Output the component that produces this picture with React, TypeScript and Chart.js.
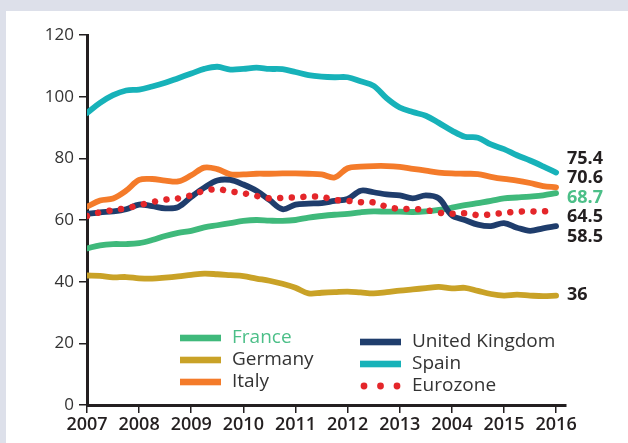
import { useEffect, useRef } from 'react';
import { Chart, registerables } from 'chart.js';

Chart.register(...registerables);

// ---- data ----
const periods = [
  2007, 2007.25, 2007.5, 2007.75, 2008, 2008.25, 2008.5, 2008.75, 2009, 2009.25, 2009.5, 2009.75,
  2010, 2010.25, 2010.5, 2010.75, 2011, 2011.25, 2011.5, 2011.75, 2012, 2012.25, 2012.5, 2012.75,
  2013, 2013.25, 2013.5, 2013.75, 2014, 2014.25, 2014.5, 2014.75, 2015, 2015.25, 2015.5, 2015.75, 2016,
];

const yearTickLabels = ['2007', '2008', '2009', '2010', '2011', '2012', '2013', '2004', '2015', '2016'];

const france = [
  50.8, 51.8, 52.2, 52.2, 52.5, 53.5, 54.8, 55.8, 56.5, 57.6, 58.3, 59,
  59.7, 60, 59.8, 59.7, 60, 60.8, 61.3, 61.7, 62, 62.5, 62.8, 62.7,
  62.7, 62.6, 62.8, 63.3, 64, 64.8, 65.5, 66.2, 67, 67.3, 67.6, 68, 68.7,
];
const germany = [
  42, 41.9, 41.4, 41.5, 41.1, 41, 41.3, 41.7, 42.2, 42.6, 42.4, 42.1,
  41.8, 41, 40.3, 39.3, 38, 36.2, 36.4, 36.6, 36.8, 36.5, 36.2, 36.6,
  37.1, 37.5, 37.9, 38.3, 37.8, 38, 37, 36, 35.5, 35.8, 35.5, 35.3, 35.5,
];
const italy = [
  64.3, 66.3, 67, 69.5, 73, 73.3, 72.8, 72.5, 74.5, 77, 76.5, 74.8,
  74.8, 75, 75, 75.1, 75.1, 75, 74.8, 73.8, 76.8, 77.3, 77.5, 77.5,
  77.2, 76.6, 76, 75.4, 75.1, 75, 74.9, 74, 73.3, 72.8, 72, 71, 70.6,
];
const unitedKingdom = [
  62, 62.5, 62.8, 63.5, 65, 64.5, 63.8, 64.2, 67.5, 70.5, 72.8, 73,
  71.5, 69.5, 66.5, 63.5, 65, 65.3, 65.5, 66.2, 66.8, 69.5, 69, 68.3,
  68, 67, 68, 67, 61.5, 60, 58.5, 58, 59, 57.5, 56.5, 57.3, 58,
];
const spain = [
  94.7, 98, 100.5, 102, 102.3, 103.3, 104.5, 106, 107.5, 109, 109.7, 108.8,
  109, 109.4, 109, 108.9, 108, 107, 106.5, 106.3, 106.3, 105, 103.5, 99.5,
  96.5, 95, 93.8, 91.5, 89, 87, 86.7, 84.5, 83, 81, 79.3, 77.4, 75.4,
];
const eurozone = [
  61.3, 62.5, 63.2, 63.8, 64.8, 65.8, 66.6, 67, 68, 69.5, 70, 69.3,
  68.7, 67.8, 67, 67.2, 67.3, 67.6, 67.5, 66.5, 66.2, 65.8, 65.7, 64.3,
  63.6, 63.6, 63.2, 62.4, 62, 62.2, 61.6, 61.8, 62.3, 62.7, 62.8, 62.8, 63.5,
];

const endLabelValues = [75.4, 70.6, 68.7, 64.5, 58.5, 36];
const endLabelTexts = ['75.4', '70.6', '68.7', '64.5', '58.5', '36'];
const endLabelSeries = ['Spain', 'Italy', 'France', 'Eurozone', 'United Kingdom', 'Germany'];

// ---- styles ----
const C_FRANCE = '#3fb97b';
const C_FRANCE_TEXT = '#4cbf88';
const C_GERMANY = '#c9a227';
const C_ITALY = '#f47b2a';
const C_UK = '#1f3d6c';
const C_SPAIN = '#17b2b9';
const C_EURO = '#e4262a';
const C_TEXT = '#231f20';
const FONT = '"Open Sans", "Noto Sans", sans-serif';

const legendLayout = [
  { name: 'France', sx: 180, tx: 232, y: 338, textColor: C_FRANCE_TEXT },
  { name: 'Germany', sx: 180, tx: 232, y: 360, textColor: '#333' },
  { name: 'Italy', sx: 180, tx: 232, y: 382, textColor: '#333' },
  { name: 'United Kingdom', sx: 360, tx: 412, y: 342, textColor: '#333' },
  { name: 'Spain', sx: 360, tx: 412, y: 364, textColor: '#333' },
  { name: 'Eurozone', sx: 360, tx: 412, y: 386, textColor: '#333' },
];

const legendPlugin = {
  id: 'customLegend',
  afterDraw(chart: any) {
    const ctx = chart.ctx;
    ctx.save();
    for (const item of legendLayout) {
      const ds = chart.data.datasets.find((d: any) => d.label === item.name);
      if (!ds) continue;
      if (ds.borderDash && ds.borderDash.length) {
        ctx.fillStyle = ds.borderColor;
        for (let k = 0; k < 3; k++) {
          ctx.beginPath();
          ctx.arc(item.sx + 4 + k * 16.5, item.y, 3.4, 0, Math.PI * 2);
          ctx.fill();
        }
      } else {
        ctx.fillStyle = ds.borderColor;
        ctx.fillRect(item.sx, item.y - 3.3, 41, 6.6);
      }
      ctx.fillStyle = item.textColor;
      ctx.font = `19px ${FONT}`;
      ctx.textBaseline = 'middle';
      ctx.textAlign = 'left';
      ctx.fillText(item.name, item.tx, item.y);
    }
    ctx.restore();
  },
};

const endLabelPlugin = {
  id: 'endLabels',
  afterDatasetsDraw(chart: any) {
    const ctx = chart.ctx;
    const yScale = chart.scales.y;
    const gap = 19.5;
    const items = endLabelValues.map((v, i) => ({
      y0: yScale.getPixelForValue(v),
      text: endLabelTexts[i],
      color: endLabelSeries[i] === 'France' ? C_FRANCE_TEXT : C_TEXT,
    }));
    items.sort((a, b) => a.y0 - b.y0);
    let clusters: { members: any[]; center: number }[] = items.map((it) => ({ members: [it], center: it.y0 }));
    let changed = true;
    while (changed) {
      changed = false;
      for (let i = 1; i < clusters.length; i++) {
        const a = clusters[i - 1];
        const b = clusters[i];
        const aBottom = a.center + ((a.members.length - 1) * gap) / 2;
        const bTop = b.center - ((b.members.length - 1) * gap) / 2;
        if (bTop - aBottom < gap) {
          const members = a.members.concat(b.members);
          const center = members.reduce((s, m) => s + m.y0, 0) / members.length;
          clusters.splice(i - 1, 2, { members, center });
          changed = true;
          break;
        }
      }
    }
    ctx.save();
    ctx.font = `bold 18px ${FONT}`;
    ctx.textAlign = 'left';
    ctx.textBaseline = 'middle';
    const x = chart.chartArea.right + 1;
    for (const c of clusters) {
      const n = c.members.length;
      c.members.forEach((m, k) => {
        const y = c.center + (k - (n - 1) / 2) * gap;
        ctx.fillStyle = m.color;
        ctx.fillText(m.text, x, y + 1);
      });
    }
    ctx.restore();
  },
};

export default function App() {
  const canvasRef = useRef<HTMLCanvasElement | null>(null);

  useEffect(() => {
    if (!canvasRef.current) return;
    const lineDs = (label: string, data: number[], color: string) => ({
      label,
      data,
      borderColor: color,
      backgroundColor: color,
      borderWidth: 5.8,
      pointRadius: 0,
      tension: 0.35,
      fill: false,
      borderCapStyle: 'round' as const,
      borderJoinStyle: 'round' as const,
    });
    const chart = new Chart(canvasRef.current, {
      type: 'line',
      data: {
        labels: periods,
        datasets: [
          {
            ...lineDs('Eurozone', eurozone, C_EURO),
            borderWidth: 6.5,
            borderDash: [0.001, 11.6],
            borderCapStyle: 'round' as const,
          },
          lineDs('United Kingdom', unitedKingdom, C_UK),
          lineDs('Italy', italy, C_ITALY),
          lineDs('Spain', spain, C_SPAIN),
          lineDs('France', france, C_FRANCE),
          lineDs('Germany', germany, C_GERMANY),
        ],
      },
      options: {
        responsive: false,
        animation: false,
        devicePixelRatio: 1,
        layout: { padding: { top: 35, right: 62, left: 0, bottom: 0 } },
        plugins: {
          legend: { display: false },
          tooltip: { enabled: false },
        },
        scales: {
          x: {
            type: 'linear',
            min: 2007,
            max: 2016.19,
            afterFit: (scale: any) => {
              scale.height = 38;
            },
            ticks: {
              stepSize: 1,
              includeBounds: false,
              autoSkip: false,
              maxRotation: 0,
              padding: 1,
              color: C_TEXT,
              font: { family: FONT, size: 18, weight: 600 },
              callback: (v: any) => {
                const idx = Math.round(Number(v) - 2007);
                return yearTickLabels[idx] ?? '';
              },
            },
            grid: {
              drawOnChartArea: false,
              drawTicks: true,
              tickLength: 8,
              color: C_TEXT,
              lineWidth: 1.5,
            },
            border: { display: true, color: C_TEXT, width: 3 },
          },
          y: {
            min: 0,
            max: 120,
            afterFit: (scale: any) => {
              scale.width = 87;
            },
            ticks: {
              stepSize: 20,
              padding: 5,
              color: '#333',
              font: { family: FONT, size: 17, weight: 'normal' },
            },
            grid: {
              drawOnChartArea: false,
              drawTicks: true,
              tickLength: 8,
              color: C_TEXT,
              lineWidth: 1.5,
            },
            border: { display: true, color: C_TEXT, width: 3 },
          },
        },
      },
      plugins: [endLabelPlugin, legendPlugin],
    });
    return () => chart.destroy();
  }, []);

  return (
    <div
      style={{
        position: 'absolute',
        left: 0,
        top: 0,
        width: 628,
        height: 443,
        background: '#dde0ea',
        overflow: 'hidden',
      }}
    >
      <div
        style={{ position: 'absolute', left: 6, top: 11, right: 0, bottom: 0, background: '#ffffff' }}
      />
      <canvas
        ref={canvasRef}
        width={628}
        height={443}
        style={{ position: 'absolute', left: 0, top: 0, width: 628, height: 443, display: 'block' }}
      />
    </div>
  );
}
